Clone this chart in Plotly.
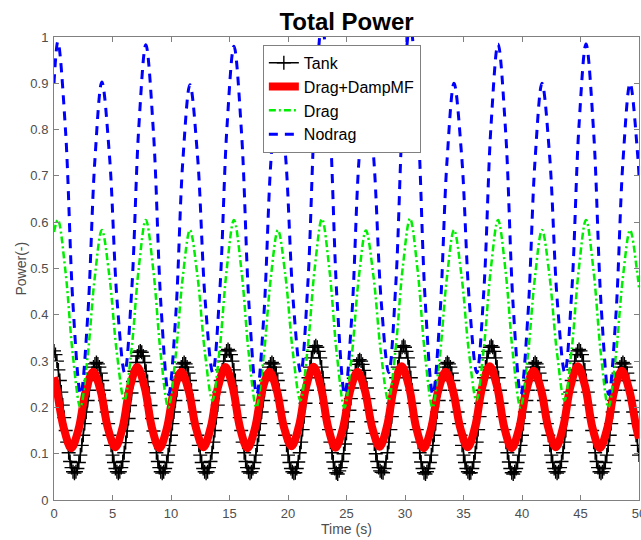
import numpy as np
import plotly.graph_objects as go

# ---------------- data ----------------
# Tank: sampled every 0.125 s from 0 to 50 s
tank_power = [
    0.322, 0.314, 0.300, 0.281, 0.258, 0.233, 0.205, 0.178, 0.150, 0.125, 0.102, 0.083, 0.070, 0.061, 0.058,
    0.061, 0.068, 0.081, 0.097, 0.118, 0.140, 0.165, 0.190, 0.215, 0.237, 0.258, 0.274, 0.287, 0.294, 0.297,
    0.294, 0.287, 0.274, 0.258, 0.237, 0.215, 0.190, 0.165, 0.140, 0.118, 0.097, 0.081, 0.068, 0.061, 0.058,
    0.061, 0.070, 0.083, 0.102, 0.124, 0.149, 0.176, 0.204, 0.231, 0.256, 0.278, 0.297, 0.311, 0.319, 0.322,
    0.319, 0.311, 0.297, 0.278, 0.256, 0.231, 0.204, 0.176, 0.149, 0.124, 0.102, 0.083, 0.070, 0.061, 0.058,
    0.061, 0.068, 0.081, 0.097, 0.118, 0.140, 0.165, 0.190, 0.215, 0.237, 0.258, 0.274, 0.287, 0.294, 0.297,
    0.294, 0.287, 0.274, 0.258, 0.237, 0.215, 0.190, 0.165, 0.140, 0.118, 0.097, 0.081, 0.068, 0.061, 0.058,
    0.061, 0.070, 0.083, 0.102, 0.125, 0.150, 0.178, 0.205, 0.233, 0.258, 0.281, 0.300, 0.314, 0.322, 0.325,
    0.322, 0.314, 0.300, 0.281, 0.258, 0.233, 0.205, 0.178, 0.150, 0.125, 0.102, 0.083, 0.070, 0.061, 0.058,
    0.061, 0.068, 0.081, 0.097, 0.118, 0.140, 0.165, 0.190, 0.215, 0.237, 0.258, 0.274, 0.287, 0.294, 0.297,
    0.294, 0.287, 0.274, 0.258, 0.237, 0.215, 0.190, 0.165, 0.140, 0.118, 0.097, 0.081, 0.068, 0.061, 0.058,
    0.059, 0.068, 0.082, 0.102, 0.125, 0.152, 0.180, 0.209, 0.237, 0.264, 0.287, 0.307, 0.321, 0.330, 0.333,
    0.330, 0.321, 0.307, 0.287, 0.264, 0.237, 0.209, 0.180, 0.152, 0.125, 0.102, 0.082, 0.068, 0.059, 0.056,
    0.063, 0.070, 0.083, 0.100, 0.121, 0.144, 0.169, 0.194, 0.219, 0.242, 0.263, 0.280, 0.293, 0.300, 0.303,
    0.300, 0.293, 0.280, 0.263, 0.242, 0.219, 0.194, 0.169, 0.144, 0.121, 0.100, 0.083, 0.070, 0.063, 0.060,
    0.059, 0.068, 0.082, 0.102, 0.125, 0.152, 0.180, 0.209, 0.237, 0.264, 0.287, 0.307, 0.321, 0.330, 0.333,
    0.330, 0.321, 0.307, 0.287, 0.264, 0.237, 0.209, 0.180, 0.152, 0.125, 0.102, 0.082, 0.068, 0.059, 0.056,
    0.061, 0.068, 0.081, 0.097, 0.118, 0.140, 0.165, 0.190, 0.215, 0.237, 0.258, 0.274, 0.287, 0.294, 0.297,
    0.294, 0.287, 0.274, 0.258, 0.237, 0.215, 0.190, 0.165, 0.140, 0.118, 0.097, 0.081, 0.068, 0.061, 0.058,
    0.059, 0.068, 0.082, 0.102, 0.125, 0.152, 0.180, 0.209, 0.237, 0.264, 0.287, 0.307, 0.321, 0.330, 0.333,
    0.330, 0.321, 0.307, 0.287, 0.264, 0.237, 0.209, 0.180, 0.152, 0.125, 0.102, 0.082, 0.068, 0.059, 0.056,
    0.061, 0.068, 0.081, 0.097, 0.118, 0.140, 0.165, 0.190, 0.215, 0.237, 0.258, 0.274, 0.287, 0.294, 0.297,
    0.294, 0.287, 0.274, 0.258, 0.237, 0.215, 0.190, 0.165, 0.140, 0.118, 0.097, 0.081, 0.068, 0.061, 0.058,
    0.061, 0.070, 0.083, 0.102, 0.125, 0.150, 0.178, 0.205, 0.233, 0.258, 0.281, 0.300, 0.314, 0.322, 0.325,
    0.322, 0.314, 0.300, 0.281, 0.258, 0.233, 0.205, 0.178, 0.150, 0.125, 0.102, 0.083, 0.070, 0.061, 0.058,
    0.061, 0.068, 0.081, 0.097, 0.118, 0.140, 0.165, 0.190, 0.215, 0.237, 0.258, 0.274, 0.287, 0.294, 0.297,
    0.294, 0.287, 0.274, 0.258, 0.237, 0.215, 0.190, 0.165, 0.140, 0.118, 0.097,
]
tank_time = np.linspace(0, 50, len(tank_power))

# Drag+DampMF: key points of the smooth curve
red_time = [0.00, 0.21, 0.84, 1.47, 2.10, 2.72, 3.35, 3.98, 4.61, 5.24, 5.87, 6.49, 7.12, 7.75, 8.37,
            9.00, 9.63, 10.25, 10.88, 11.51, 12.14, 12.77, 13.40, 14.02, 14.65, 15.28, 15.90, 16.53,
            17.16, 17.78, 18.41, 19.04, 19.67, 20.30, 20.93, 21.55, 22.18, 22.81, 23.43, 24.06, 24.69,
            25.31, 25.94, 26.57, 27.20, 27.83, 28.46, 29.08, 29.71, 30.34, 30.96, 31.59, 32.22, 32.84,
            33.47, 34.10, 34.73, 35.36, 35.99, 36.61, 37.24, 37.87, 38.49, 39.12, 39.75, 40.37, 41.00,
            41.63, 42.26, 42.89, 43.52, 44.14, 44.77, 45.40, 46.02, 46.65, 47.28, 47.90, 48.53, 49.16,
            49.78, 50.00]
red_power = [0.265, 0.242, 0.155, 0.112, 0.153, 0.236, 0.277, 0.236, 0.155, 0.114, 0.157, 0.244, 0.287,
             0.243, 0.156, 0.112, 0.153, 0.236, 0.277, 0.236, 0.155, 0.114, 0.157, 0.244, 0.287, 0.243,
             0.156, 0.112, 0.153, 0.236, 0.277, 0.237, 0.156, 0.116, 0.159, 0.245, 0.288, 0.244, 0.157,
             0.113, 0.154, 0.236, 0.277, 0.237, 0.156, 0.115, 0.159, 0.246, 0.289, 0.245, 0.156, 0.112,
             0.153, 0.236, 0.277, 0.236, 0.155, 0.114, 0.158, 0.245, 0.289, 0.245, 0.156, 0.112, 0.154,
             0.237, 0.279, 0.238, 0.155, 0.114, 0.158, 0.245, 0.289, 0.245, 0.156, 0.112, 0.154, 0.237,
             0.279, 0.238, 0.155, 0.133]

# Drag: key points
green_time = [0.00, 0.33, 0.97, 1.61, 2.25, 2.86, 3.48, 4.09, 4.73, 5.37, 6.01, 6.62, 7.24, 7.85, 8.49,
              9.13, 9.77, 10.38, 11.00, 11.62, 12.26, 12.90, 13.54, 14.15, 14.77, 15.38, 16.02, 16.66,
              17.30, 17.91, 18.53, 19.14, 19.78, 20.42, 21.06, 21.67, 22.29, 22.90, 23.54, 24.18, 24.82,
              25.43, 26.05, 26.66, 27.30, 27.94, 28.58, 29.19, 29.81, 30.43, 31.07, 31.71, 32.35, 32.96,
              33.58, 34.19, 34.83, 35.47, 36.11, 36.72, 37.34, 37.95, 38.59, 39.23, 39.87, 40.48, 41.10,
              41.71, 42.35, 42.99, 43.63, 44.24, 44.86, 45.47, 46.11, 46.75, 47.39, 48.00, 48.62, 49.24,
              49.88, 50.00]
green_power = [0.579,
               0.605, 0.496, 0.313, 0.200, 0.307, 0.480,
               0.583, 0.484, 0.318, 0.215, 0.324, 0.500,
               0.605, 0.496, 0.313, 0.200, 0.307, 0.480,
               0.583, 0.484, 0.318, 0.215, 0.324, 0.500,
               0.605, 0.496, 0.313, 0.200, 0.307, 0.480,
               0.583, 0.484, 0.318, 0.215, 0.325, 0.502,
               0.607, 0.497, 0.313, 0.200, 0.307, 0.480,
               0.582, 0.484, 0.318, 0.215, 0.325, 0.503,
               0.608, 0.498, 0.313, 0.200, 0.307, 0.480,
               0.583, 0.484, 0.318, 0.215, 0.324, 0.500,
               0.605, 0.496, 0.313, 0.200, 0.307, 0.480,
               0.583, 0.484, 0.318, 0.215, 0.324, 0.500,
               0.605, 0.496, 0.313, 0.200, 0.307, 0.480,
               0.583, 0.484, 0.459]

# Nodrag: key points
blue_time = [0.00, 0.33, 0.98, 1.63, 2.28, 2.88, 3.49, 4.09, 4.74, 5.39, 6.04, 6.64, 7.25, 7.85, 8.50,
             9.15, 9.80, 10.40, 11.01, 11.62, 12.27, 12.92, 13.57, 14.17, 14.78, 15.38, 16.03, 16.68,
             17.33, 17.93, 18.54, 19.14, 19.79, 20.44, 21.09, 21.69, 22.30, 22.90, 23.55, 24.20, 24.85,
             25.45, 26.06, 26.66, 27.31, 27.96, 28.61, 29.21, 29.82, 30.43, 31.08, 31.73, 32.38, 32.98,
             33.59, 34.19, 34.84, 35.49, 36.14, 36.74, 37.35, 37.95, 38.60, 39.25, 39.90, 40.50, 41.11,
             41.71, 42.36, 43.01, 43.66, 44.26, 44.87, 45.47, 46.12, 46.77, 47.42, 48.02, 48.63, 49.24,
             49.89, 50.00]
blue_power = [0.900,
              0.990, 0.800, 0.419, 0.228, 0.396, 0.732,
              0.903, 0.744, 0.431, 0.275, 0.452, 0.806,
              0.983, 0.794, 0.417, 0.228, 0.396, 0.732,
              0.897, 0.742, 0.431, 0.275, 0.451, 0.804,
              0.980, 0.792, 0.416, 0.228, 0.396, 0.732,
              0.900, 0.744, 0.431, 0.275, 0.464, 0.841,
              1.030, 0.830, 0.429, 0.228, 0.396, 0.732,
              0.900, 0.744, 0.431, 0.275, 0.464, 0.841,
              1.030, 0.830, 0.429, 0.228, 0.396, 0.732,
              0.900, 0.744, 0.431, 0.275, 0.453, 0.808,
              0.985, 0.796, 0.417, 0.228, 0.396, 0.732,
              0.900, 0.744, 0.431, 0.275, 0.453, 0.808,
              0.985, 0.796, 0.417, 0.228, 0.396, 0.732,
              0.900, 0.744, 0.700]

series_names = ["Tank", "Drag+DampMF", "Drag", "Nodrag"]
x_ticks = [0, 5, 10, 15, 20, 25, 30, 35, 40, 45, 50]
y_ticks = [0, 0.1, 0.2, 0.3, 0.4, 0.5, 0.6, 0.7, 0.8, 0.9, 1]

# ---------------- figure ----------------
FONT = "Liberation Sans, Arial, Helvetica, sans-serif"
AXIS_GRAY = "#808080"
LABEL_GRAY = "#4d4d4d"
W, H = 641, 540
ML, MR, MT, MB = 54, 2, 37, 40
PW, PH = W - ML - MR, H - MT - MB

fig = go.Figure()
fig.add_trace(go.Scatter(
    x=tank_time, y=tank_power, name=series_names[0], mode="lines+markers",
    line=dict(color="black", width=1.5),
    marker=dict(symbol="cross-thin", size=10, color="black",
                line=dict(color="black", width=1.4)),
))
fig.add_trace(go.Scatter(
    x=red_time, y=red_power, name=series_names[1], mode="lines",
    line=dict(color="#ff0000", width=8, shape="spline"),
))
fig.add_trace(go.Scatter(
    x=green_time, y=green_power, name=series_names[2], mode="lines",
    line=dict(color="#00ee00", width=2.5, shape="spline", dash="7px,3px,2px,3px"),
))
fig.add_trace(go.Scatter(
    x=blue_time, y=blue_power, name=series_names[3], mode="lines",
    line=dict(color="#0000ff", width=3, shape="spline", dash="9px,7px"),
))

axis_common = dict(
    showline=True, linecolor=AXIS_GRAY, linewidth=1, mirror="ticks",
    ticks="inside", ticklen=5, tickcolor=AXIS_GRAY, tickwidth=1,
    showgrid=False, zeroline=False,
    tickfont=dict(family=FONT, size=13, color=LABEL_GRAY),
    automargin=False, ticklabeloverflow="allow",
)

fig.update_layout(
    width=W, height=H,
    margin=dict(l=ML, r=MR, t=MT, b=MB, pad=0),
    paper_bgcolor="white", plot_bgcolor="white",
    font=dict(family=FONT, color="black"),
    title=dict(text="<b>Total Power</b>", font=dict(family=FONT, size=24, color="black"),
               x=0.5, xref="paper", xanchor="center",
               y=1 - 21.5 / H, yref="container", yanchor="middle"),
    xaxis=dict(range=[0, 50], tickvals=x_ticks, ticktext=[str(v) for v in x_ticks],
               ticklabelstandoff=1, **axis_common),
    yaxis=dict(range=[0, 1], tickvals=y_ticks, ticktext=[f"{v:g}" for v in y_ticks],
               ticklabelstandoff=2, **axis_common),
    legend=dict(x=0.357, y=0.983, xanchor="left", yanchor="top",
                bgcolor="white", bordercolor=AXIS_GRAY, borderwidth=1,
                font=dict(family=FONT, size=16, color="black"),
                tracegroupgap=0, itemwidth=30),
    showlegend=True,
)

# axis titles placed where the reference has them
fig.add_annotation(text="Time (s)", xref="paper", yref="paper",
                   x=0.5, y=-(529 - (MT + PH)) / PH, xanchor="center", yanchor="middle",
                   showarrow=False, font=dict(family=FONT, size=14, color=LABEL_GRAY))
fig.add_annotation(text="Power(-)", xref="paper", yref="paper", textangle=-90,
                   x=-(ML - 20) / PW, y=0.5, xanchor="center", yanchor="middle",
                   showarrow=False, font=dict(family=FONT, size=14, color=LABEL_GRAY))

fig.write_html("out.html")
